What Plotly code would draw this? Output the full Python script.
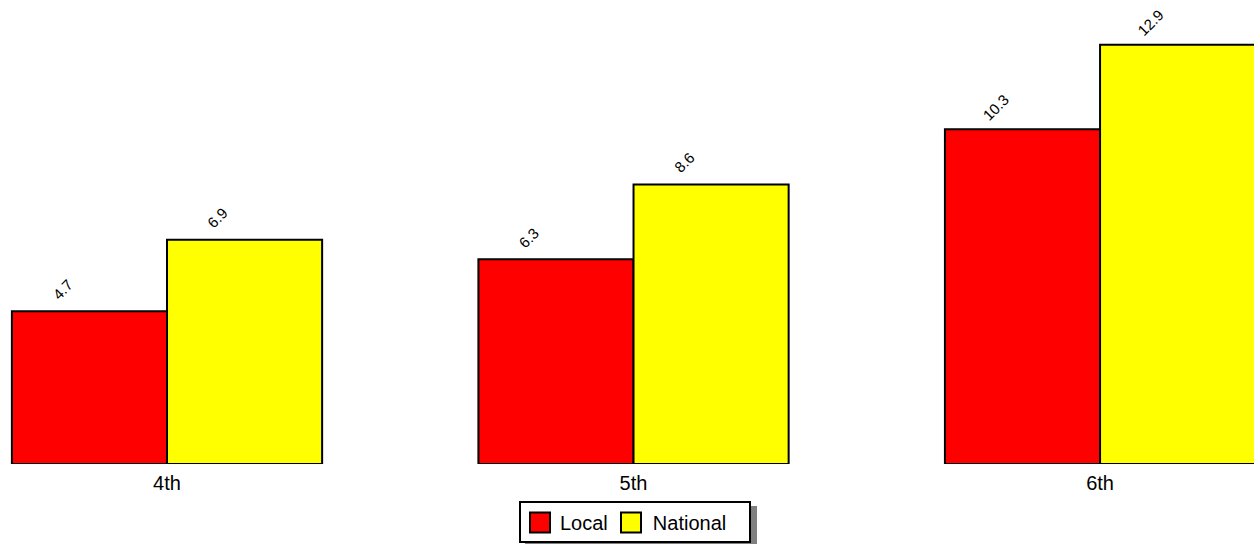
import plotly.graph_objects as go

categories = ["4th", "5th", "6th"]
local_vals = [4.7, 6.3, 10.3]
national_vals = [6.9, 8.6, 12.9]
series_names = ["Local", "National"]
series_colors = ["#ff0000", "#ffff00"]

W, H = 1254, 544
PLOT_H = 464
FONT = "Liberation Sans, Arial, sans-serif"

fig = go.Figure()
for name, vals, col in zip(series_names, [local_vals, national_vals], series_colors):
    fig.add_trace(go.Bar(
        name=name, x=list(range(len(categories))), y=vals,
        marker=dict(color=col, line=dict(color="black", width=2)),
        showlegend=False, hoverinfo="x+y",
    ))
    # legend proxy (its swatch is drawn larger as a shape below)
    fig.add_trace(go.Scatter(
        name=name, x=[None], y=[None], mode="markers",
        marker=dict(symbol="square", size=16, color="rgba(0,0,0,0)", line=dict(width=0)),
        showlegend=True,
    ))

# value labels
bar_w = (1 - 0.335) / 2
for k, vals in enumerate([local_vals, national_vals]):
    for i, v in enumerate(vals):
        xc = i + (k - 0.5) * bar_w
        fig.add_annotation(
            x=xc, y=v, text=f"{v}", showarrow=False, textangle=-45,
            xanchor="center", yanchor="middle", xshift=-27, yshift=22,
            font=dict(family=FONT, size=15, color="black"),
        )

# legend frame + shadow
leg_x0, leg_x1 = 519, 751
leg_y0, leg_y1 = 501, 543
def px_to_paper_x(px):
    return px / W
def px_to_paper_y(py):
    return (PLOT_H - py) / PLOT_H
fig.add_shape(type="rect", xref="paper", yref="paper",
              x0=px_to_paper_x(leg_x0 + 6), x1=px_to_paper_x(leg_x1 + 6),
              y0=px_to_paper_y(leg_y1 + 6), y1=px_to_paper_y(leg_y0 + 5),
              fillcolor="#808080", line=dict(width=0), layer="above")
fig.add_shape(type="rect", xref="paper", yref="paper",
              x0=px_to_paper_x(leg_x0 + 1), x1=px_to_paper_x(leg_x1 - 1),
              y0=px_to_paper_y(leg_y1 - 1), y1=px_to_paper_y(leg_y0 + 1),
              fillcolor="white", line=dict(width=2, color="black"), layer="above")
# larger legend swatches
for sx, col in zip([530, 621], series_colors):
    fig.add_shape(type="rect", xref="paper", yref="paper",
                  x0=px_to_paper_x(sx), x1=px_to_paper_x(sx + 20),
                  y0=px_to_paper_y(532.5), y1=px_to_paper_y(512.5),
                  fillcolor=col, line=dict(width=2, color="black"), layer="above")

fig.update_layout(
    width=W, height=H,
    margin=dict(l=0, r=0, t=0, b=H - PLOT_H),
    paper_bgcolor="white", plot_bgcolor="white",
    barmode="group", bargap=0.335, bargroupgap=0,
    font=dict(family=FONT, size=20, color="black"),
    xaxis=dict(
        range=[-0.358, 2.330], tickvals=list(range(len(categories))), ticktext=categories,
        showgrid=False, zeroline=False, showline=False, ticks="",
        tickfont=dict(size=20), fixedrange=True, ticklabelstandoff=5,
    ),
    yaxis=dict(range=[0, PLOT_H / 32.5], visible=False, showgrid=False, fixedrange=True),
    legend=dict(
        orientation="h", x=px_to_paper_x(leg_x0 + 1), xanchor="left",
        y=px_to_paper_y(leg_y0 + 2), yanchor="top",
        bgcolor="rgba(0,0,0,0)", borderwidth=0,
        font=dict(size=20), itemsizing="trace",
    ),
)

fig.write_html("out.html", config={"displayModeBar": False},
               post_script="document.body.style.margin='0';document.body.style.overflow='hidden';")
